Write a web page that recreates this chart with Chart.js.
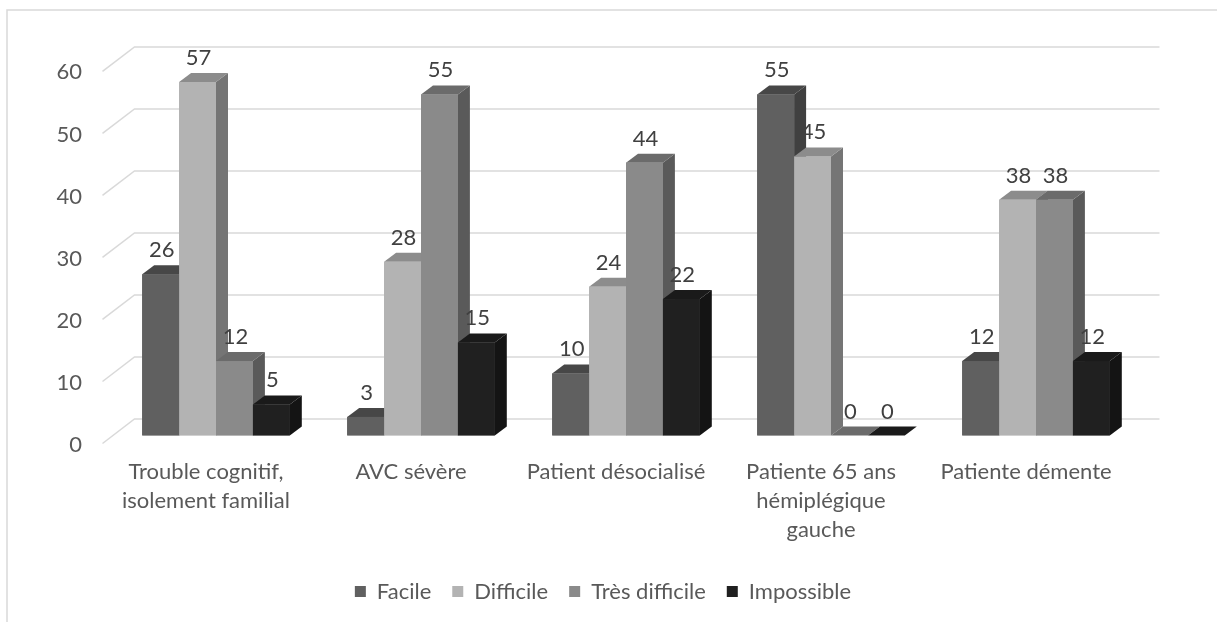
<!DOCTYPE html>
<html><head><meta charset="utf-8">
<script src="https://cdn.jsdelivr.net/npm/chart.js@4.4.0/dist/chart.umd.min.js"></script>
<style>html,body{margin:0;padding:0;background:#fff;} #c{display:block;}</style>
</head><body>
<canvas id="c" width="1217" height="622" style="width:1217px;height:622px"></canvas>
<script>
// ---- data ----
const categories = [["Trouble cognitif,","isolement familial"],"AVC sévère","Patient désocialisé",["Patiente 65 ans","hémiplégique","gauche"],"Patiente démente"];
const seriesNames = ["Facile","Difficile","Très difficile","Impossible"];
const facile = [26,3,10,55,12];
const difficile = [57,28,24,45,38];
const tresDifficile = [12,55,44,0,38];
const impossible = [5,15,22,0,12];
const yMin = 0, yMax = 60, yStep = 10;

// ---- styles ----
const FRONT = ['#606060','#b3b3b3','#8a8a8a','#202020'];
const TOP   = ['#474747','#8c8c8c','#6b6b6b','#1a1a1a'];
const SIDE  = ['#404040','#757575','#5a5a5a','#141414'];
const FONT = 'Lato';
const FS = 22;
const DX = 12, DY = 9;        // bar depth
const BX = 21, BY = -16.5;    // back wall offset
const FX = -11, FY = 8;       // front floor offset
const GRID = '#d9d9d9';

const threeD = {
  id: 'threeD',
  beforeDraw(chart) {
    const ctx = chart.ctx;
    ctx.save();
    ctx.fillStyle = '#fff';
    ctx.fillRect(0, 0, chart.width, chart.height);
    ctx.strokeStyle = GRID; ctx.lineWidth = 1.5;
    ctx.beginPath();
    ctx.moveTo(7, chart.height); ctx.lineTo(7, 10); ctx.lineTo(chart.width, 10);
    ctx.stroke();
    ctx.restore();
  },
  beforeDatasetsDraw(chart) {
    const ctx = chart.ctx, ys = chart.scales.y, a = chart.chartArea;
    ctx.save();
    ctx.strokeStyle = GRID; ctx.lineWidth = 1.5;
    ys.ticks.forEach(t => {
      const y = ys.getPixelForValue(t.value);
      ctx.beginPath();
      ctx.moveTo(a.left + FX, y + FY);
      ctx.lineTo(a.left + BX, y + BY);
      ctx.lineTo(a.right + BX, y + BY);
      ctx.stroke();
    });
    ctx.restore();
  },
  afterDatasetsDraw(chart) {
    const ctx = chart.ctx;
    const n = chart.data.labels.length;
    const nd = chart.data.datasets.length;
    ctx.save();
    const geo = [];
    for (let i = 0; i < n; i++) {
      for (let d = 0; d < nd; d++) {
        const el = chart.getDatasetMeta(d).data[i];
        const p = el.getProps(['x','y','base','width'], true);
        const L = p.x - p.width/2, R = p.x + p.width/2;
        const T = Math.min(p.y, p.base), B = p.base;
        ctx.fillStyle = SIDE[d];
        ctx.beginPath();
        ctx.moveTo(R, T); ctx.lineTo(R+DX, T-DY); ctx.lineTo(R+DX, B-DY); ctx.lineTo(R, B); ctx.closePath(); ctx.fill();
        ctx.fillStyle = TOP[d];
        ctx.beginPath();
        ctx.moveTo(L, T); ctx.lineTo(R, T); ctx.lineTo(R+DX, T-DY); ctx.lineTo(L+DX, T-DY); ctx.closePath(); ctx.fill();
        ctx.fillStyle = FRONT[d];
        ctx.fillRect(L, T, R-L, B-T);
        geo.push({x: p.x, T, v: chart.data.datasets[d].data[i]});
      }
    }
    ctx.fillStyle = '#404040';
    ctx.font = FS + 'px ' + FONT;
    ctx.textAlign = 'center';
    ctx.textBaseline = 'alphabetic';
    geo.forEach(g => ctx.fillText(String(g.v), g.x + 1, g.T - 17));
    ctx.restore();
  }
};

const seriesData = [facile, difficile, tresDifficile, impossible];
new Chart(document.getElementById('c'), {
  type: 'bar',
  data: {
    labels: categories,
    datasets: seriesNames.map((name, d) => ({
      label: name,
      data: seriesData[d],
      yAxisID: 'y',
      backgroundColor: FRONT[d],
      borderWidth: 0,
      categoryPercentage: 0.72,
      barPercentage: 1.0
    }))
  },
  options: {
    responsive: false,
    animation: false,
    devicePixelRatio: 1,
    layout: { padding: { top: 63.4, right: 11, bottom: 9.5, left: 0 } },
    scales: {
      x: {
        grid: { display: false, drawTicks: false },
        border: { display: false },
        ticks: { color: '#595959', font: { family: FONT, size: FS, lineHeight: 1.32 }, padding: 22, labelOffset: -10, maxRotation: 0, autoSkip: false },
        afterFit(s) { s.height = 124; }
      },
      y: {
        min: yMin, max: yMax,
        grid: { display: false, drawTicks: false },
        border: { display: false },
        ticks: { stepSize: yStep, color: '#595959', font: { family: FONT, size: FS }, padding: 31.5, labelOffset: 9 },
        afterFit(s) { s.width = 113.5; }
      },
      y2: {
        position: 'right',
        min: yMin, max: yMax,
        grid: { display: false, drawTicks: false },
        border: { display: false },
        ticks: { display: false },
        afterFit(s) { s.width = 67.5; }
      }
    },
    plugins: {
      legend: {
        position: 'bottom',
        labels: { color: '#595959', font: { family: FONT, size: FS }, boxWidth: 11, boxHeight: 11, padding: 21 }
      },
      tooltip: { enabled: false }
    }
  },
  plugins: [threeD]
});
</script>
</body></html>
